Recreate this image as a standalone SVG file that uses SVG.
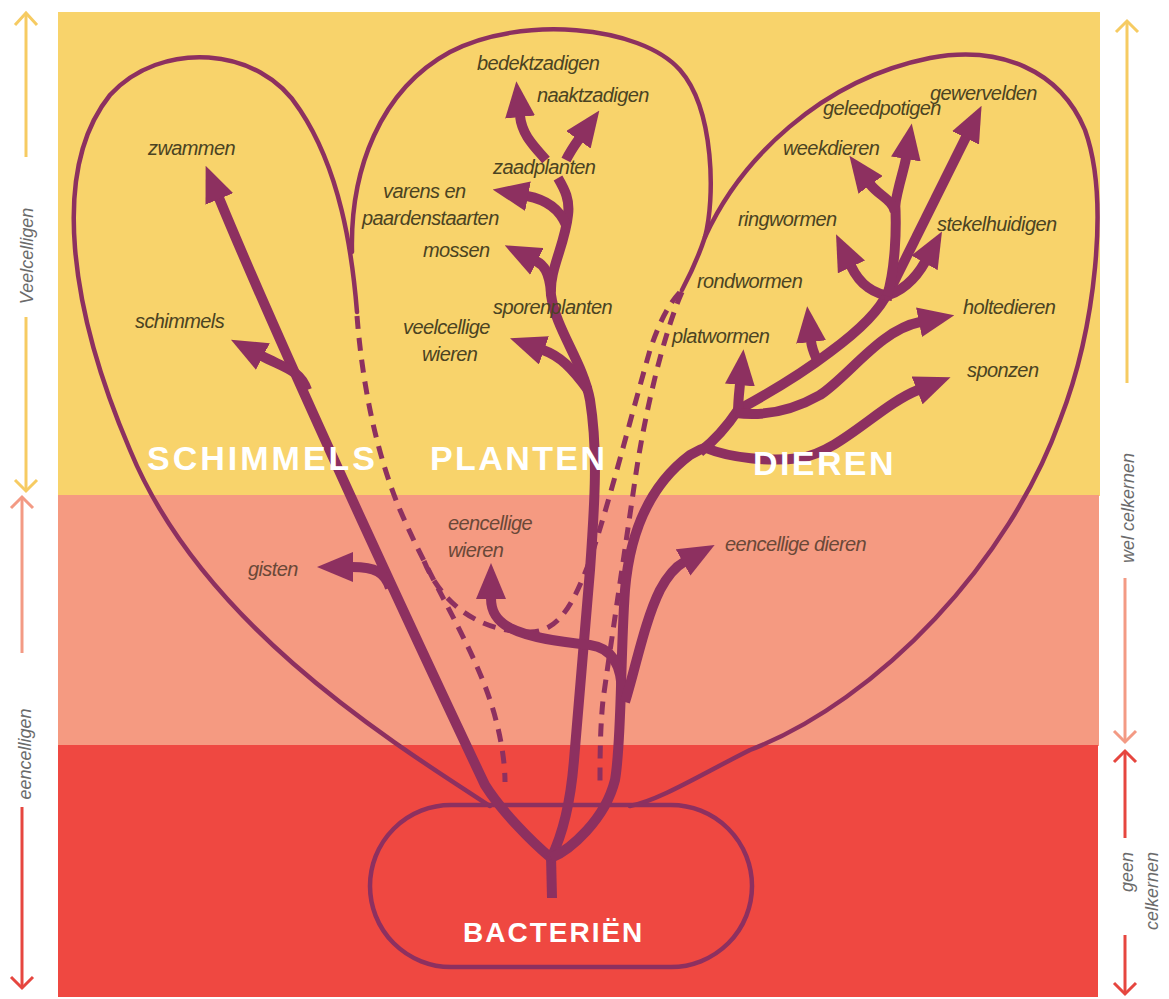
<svg xmlns="http://www.w3.org/2000/svg" width="1169" height="999" viewBox="0 0 1169 999">
<defs>
<marker id="ah" viewBox="0 0 36 30" refX="1" refY="15" markerWidth="36" markerHeight="30" markerUnits="userSpaceOnUse" orient="auto"><path d="M0,0 L36,15 L0,30 Z" fill="#8D3060"/></marker>
</defs>
<style>
.loop{fill:none;stroke:#8D3060;stroke-width:4.5;stroke-linecap:round}
.dash{fill:none;stroke:#8D3060;stroke-width:5;stroke-dasharray:13 9}
.stem{fill:none;stroke:#8D3060;stroke-width:10;stroke-linejoin:round}
.arr{fill:none;stroke:#8D3060;stroke-width:10;marker-end:url(#ah)}
.lbl{font-family:"Liberation Sans",Arial,sans-serif;font-style:italic;font-size:20px;letter-spacing:-0.6px;fill:#4B4322}
.lbl2{font-family:"Liberation Sans",Arial,sans-serif;font-style:italic;font-size:20px;letter-spacing:-0.6px;fill:#6A4838}
.big{font-family:"Liberation Sans",Arial,sans-serif;font-weight:bold;font-size:34px;fill:#FFFFFF;letter-spacing:3px}
.side{font-family:"Liberation Sans",Arial,sans-serif;font-style:italic;font-size:18px;fill:#6B6B6B}
.sa{fill:none;stroke-width:3}
</style>
<g id="background">
<rect x="58" y="12" width="1042" height="484" fill="#F8D36B"/>
<rect x="58" y="495" width="1041" height="251" fill="#F59A81"/>
<rect x="58" y="745" width="1040" height="252" fill="#EF4841"/>
</g>
<g id="scale-left">
<g stroke="#F6CB62" class="sa">
<line x1="26" y1="14" x2="26" y2="157"/><line x1="26" y1="317" x2="26" y2="490"/>
<polyline points="15,25 26,13 37,25"/><polyline points="15,480 26,491 37,480"/>
</g>
<g stroke="#F39A84" class="sa">
<line x1="22" y1="497" x2="22" y2="653"/><polyline points="11,508 22,497 33,508"/>
</g>
<g stroke="#E6463F" class="sa">
<line x1="22" y1="807" x2="22" y2="988"/><polyline points="11,977 22,988 33,977"/>
</g>
<text class="side" text-anchor="middle" transform="translate(33,256) rotate(-90)">Veelcelligen</text>
<text class="side" text-anchor="middle" transform="translate(31,754) rotate(-90)">eencelligen</text>
</g>
<g id="scale-right">
<g stroke="#F6CB62" class="sa">
<line x1="1127" y1="21" x2="1127" y2="383"/><polyline points="1116,32 1127,21 1138,32"/>
</g>
<g stroke="#F39A84" class="sa">
<line x1="1125" y1="578" x2="1125" y2="742"/><polyline points="1114,731 1125,742 1136,731"/>
</g>
<g stroke="#E6463F" class="sa">
<line x1="1125" y1="751" x2="1125" y2="838"/><polyline points="1114,762 1125,751 1136,762"/>
<line x1="1125" y1="935" x2="1125" y2="994"/><polyline points="1114,983 1125,994 1136,983"/>
</g>
<text class="side" text-anchor="middle" transform="translate(1134,508) rotate(-90)">wel celkernen</text>
<text class="side" text-anchor="end" transform="translate(1133,852) rotate(-90)">geen</text>
<text class="side" text-anchor="end" transform="translate(1158,852) rotate(-90)">celkernen</text>
</g>
<g id="schimmels">
<path class="loop" d="M490,806 C380,735 200,620 130,450 C70,310 50,170 110,95 C160,40 260,45 300,110 C340,170 352,250 357,312"/>
</g>
<g id="planten">
<path class="loop" d="M352,252 C350,170 380,90 450,52 C520,15 640,25 680,70 C715,110 715,200 705,237 C698,258 690,275 682,290"/>
</g>
<g id="dieren">
<path class="loop" d="M705,237 C740,160 820,80 930,58 C1000,45 1060,70 1085,130 C1110,200 1095,330 1060,420 C1010,560 880,700 750,750 C700,775 660,800 630,806"/>
</g>
<g id="bacterien">
<rect x="370" y="805" width="382" height="162" rx="81" fill="none" stroke="#8D3060" stroke-width="4.5"/>
</g>
<g id="connectors">
<path class="dash" d="M357,316 C362,380 375,450 400,510 C430,580 470,640 490,700 C500,730 505,760 505,782"/>
<path class="dash" d="M424,561 C440,600 475,632 530,632 C560,632 575,600 590,560 C610,500 630,420 650,350 C660,320 670,302 682,290"/>
<path class="dash" d="M682,292 C665,330 645,410 635,480 C622,570 610,650 603,700 C600,730 600,760 600,782"/>
<path class="stem" d="M552,898 L551,856"/>
<path class="arr" d="M551,858 C532,842 502,812 485,785 C440,690 290,370 219,198"/>
<path class="arr" d="M307,390 C300,370 285,368 262,356"/>
<path class="arr" d="M390,588 C385,572 375,567 352,567"/>
<path class="stem" d="M551,858 C560,840 570,810 574,760 L590,570 C595,500 598,450 590,400 C583,362 556,330 551,295 C549,270 565,245 568,215 C570,200 565,190 558,178"/>
<path class="arr" d="M588,390 C572,368 560,356 543,350"/>
<path class="arr" d="M551,292 C549,272 544,265 536,261"/>
<path class="arr" d="M566,225 C560,210 548,200 527,196"/>
<path class="arr" d="M546,160 C534,146 522,135 520,116"/>
<path class="arr" d="M566,160 C570,152 574,146 579,139"/>
<path class="stem" d="M551,858 C570,850 605,820 615,780 C622,740 620,660 625,590 C630,530 650,485 690,455 C698,450 703,448 710,446"/>
<path class="arr" d="M706,448 C730,458 770,462 800,458 C840,452 880,405 918,390"/>
<path class="stem" d="M700,452 C715,440 728,425 738,410 C760,398 800,375 830,352 C860,330 880,310 888,292"/>
<path class="arr" d="M738,414 C738,402 739,394 740,384"/>
<path class="arr" d="M736,413 C760,416 790,412 820,395 C850,375 880,330 920,322"/>
<path class="arr" d="M818,362 C815,355 812,350 811,341"/>
<path class="arr" d="M892,296 C875,295 860,285 851,266"/>
<path class="arr" d="M884,296 C900,293 915,280 925,262"/>
<path class="arr" d="M886,298 L966,137"/>
<path class="stem" d="M887,296 C895,270 897,230 895,200"/>
<path class="arr" d="M895,206 C898,186 904,170 906,158"/>
<path class="arr" d="M895,212 C893,200 878,195 870,184"/>
<path class="arr" d="M622,695 C622,665 612,648 590,645 C560,642 530,638 510,628 C495,620 491,610 491,598"/>
<path class="arr" d="M625,702 C635,670 645,620 660,590 C668,575 675,567 684,562"/>
</g>
<g id="labels">
<g id="n-zwammen"><text class="lbl" x="148" y="155">zwammen</text></g>
<g id="n-schimmels"><text class="lbl" x="135" y="328">schimmels</text></g>
<g id="n-gisten"><text class="lbl2" x="248" y="576">gisten</text></g>
<g id="n-bedektzadigen"><text class="lbl" x="477" y="70">bedektzadigen</text></g>
<g id="n-naaktzadigen"><text class="lbl" x="537" y="102">naaktzadigen</text></g>
<g id="n-zaadplanten"><text class="lbl" x="493" y="174">zaadplanten</text></g>
<g id="n-varens"><text class="lbl" x="383" y="198">varens en</text><text class="lbl" x="362" y="225">paardenstaarten</text></g>
<g id="n-mossen"><text class="lbl" x="423" y="257">mossen</text></g>
<g id="n-sporenplanten"><text class="lbl" x="493" y="314">sporenplanten</text></g>
<g id="n-veelcellige-wieren"><text class="lbl" x="403" y="334">veelcellige</text><text class="lbl" x="422" y="361">wieren</text></g>
<g id="n-gewervelden"><text class="lbl" x="930" y="100">gewervelden</text></g>
<g id="n-geleedpotigen"><text class="lbl" x="823" y="115">geleedpotigen</text></g>
<g id="n-weekdieren"><text class="lbl" x="783" y="155">weekdieren</text></g>
<g id="n-ringwormen"><text class="lbl" x="738" y="226">ringwormen</text></g>
<g id="n-stekelhuidigen"><text class="lbl" x="937" y="231">stekelhuidigen</text></g>
<g id="n-rondwormen"><text class="lbl" x="697" y="288">rondwormen</text></g>
<g id="n-holtedieren"><text class="lbl" x="963" y="314">holtedieren</text></g>
<g id="n-platwormen"><text class="lbl" x="672" y="343">platwormen</text></g>
<g id="n-sponzen"><text class="lbl" x="967" y="377">sponzen</text></g>
<g id="n-eencellige-wieren"><text class="lbl2" x="448" y="530">eencellige</text><text class="lbl2" x="448" y="557">wieren</text></g>
<g id="n-eencellige-dieren"><text class="lbl2" x="725" y="551">eencellige dieren</text></g>
</g>
<g id="group-labels">
<text class="big" x="147" y="470">SCHIMMELS</text>
<text class="big" x="430" y="470" style="letter-spacing:2.4px">PLANTEN</text>
<text class="big" x="753" y="475" style="letter-spacing:2.4px">DIEREN</text>
<text class="big" x="463" y="942" style="font-size:28px;letter-spacing:2px">BACTERIËN</text>
</g>
</svg>
